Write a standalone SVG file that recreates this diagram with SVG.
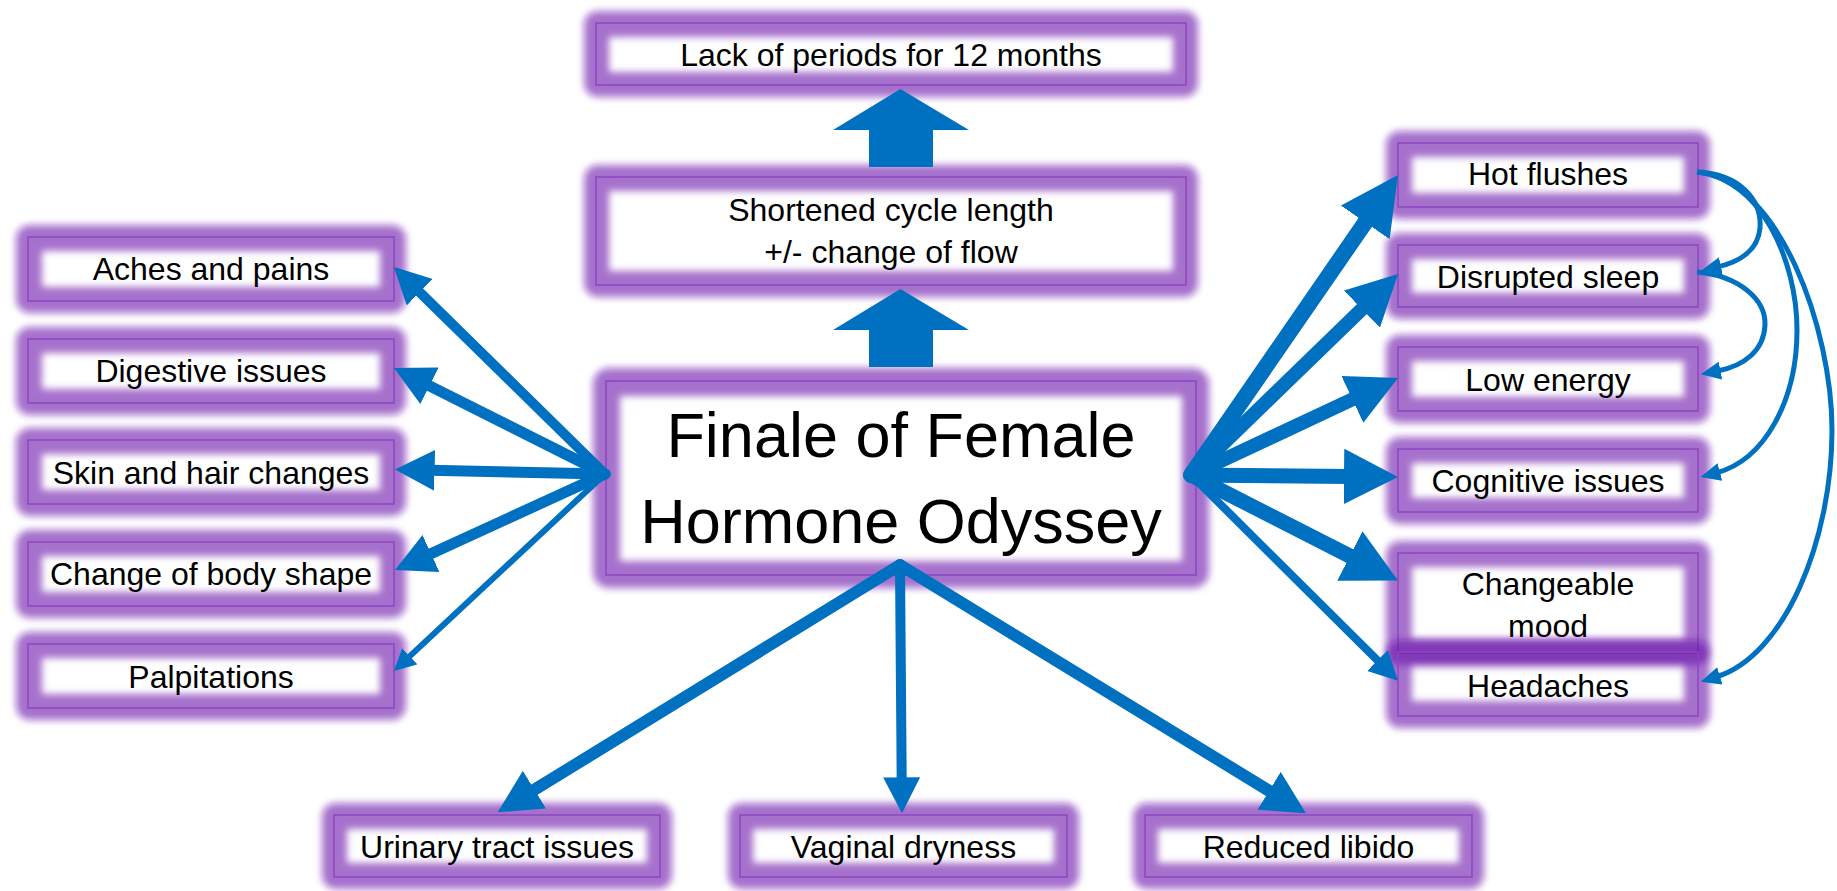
<svg xmlns="http://www.w3.org/2000/svg" width="1837" height="891" viewBox="0 0 1837 891">
<style>
.g{fill:#6a10aa;fill-opacity:0.6;filter:url(#soft)}
.w{fill:#ffffff;filter:url(#soft)}
.b{fill:none;stroke:#8a45c0;stroke-width:1.5}
.t{font-family:"Liberation Sans",Arial,sans-serif;font-size:32px;fill:#000;text-anchor:middle}
.big{font-size:63px}
.c{fill:none;stroke:#0070C0;stroke-linecap:round}
.cv{fill:none;stroke:#0070C0;stroke-width:5;marker-end:url(#sh)}
.blk{fill:#0070C0}
</style>
<defs>
<filter id="soft" x="-20%" y="-50%" width="140%" height="200%"><feGaussianBlur stdDeviation="3.5"/></filter>
<marker id="ah" viewBox="0 0 3.6 3.7" refX="0.4" refY="1.85" markerWidth="3.6" markerHeight="3.7" orient="auto" markerUnits="strokeWidth"><path d="M0,0 L3.6,1.85 L0,3.7 z" fill="#0070C0"/></marker>
<marker id="sh" viewBox="0 0 20 18" refX="4" refY="9" markerWidth="20" markerHeight="18" orient="auto" markerUnits="userSpaceOnUse"><path d="M0,0 L20,9 L0,18 z" fill="#0070C0"/></marker>
</defs>
<rect width="1837" height="891" fill="#ffffff"/>

<g id="node-lack">
<rect class="g" x="584" y="11" width="614" height="86" rx="14"/>
<rect class="w" x="609" y="37" width="564" height="35"/>
<rect class="b" x="596" y="23" width="590" height="62"/>
<text class="t" x="891" y="66">Lack of periods for 12 months</text>
</g>
<g id="node-shortened">
<rect class="g" x="584" y="165" width="614" height="132" rx="14"/>
<rect class="w" x="609" y="191" width="564" height="80"/>
<rect class="b" x="596" y="177" width="590" height="108"/>
<text class="t" x="891" y="221">Shortened cycle length</text>
<text class="t" x="891" y="263">+/- change of flow</text>
</g>
<g id="node-center">
<rect class="g" x="593" y="368" width="616" height="220" rx="16"/>
<rect class="w" x="620" y="396" width="562" height="165"/>
<rect class="b" x="606" y="381" width="590" height="194"/>
<text class="t big" x="901" y="457">Finale of Female</text>
<text class="t big" x="901" y="543">Hormone Odyssey</text>
</g>

<g id="node-aches">
<rect class="g" x="16" y="225" width="390" height="88" rx="14"/>
<rect class="w" x="42" y="251" width="338" height="36"/>
<rect class="b" x="28" y="237" width="366" height="64"/>
<text class="t" x="211" y="280">Aches and pains</text>
</g>
<g id="node-digestive">
<rect class="g" x="16" y="327" width="390" height="88" rx="14"/>
<rect class="w" x="42" y="353" width="338" height="36"/>
<rect class="b" x="28" y="339" width="366" height="64"/>
<text class="t" x="211" y="382">Digestive issues</text>
</g>
<g id="node-skin">
<rect class="g" x="16" y="428" width="390" height="88" rx="14"/>
<rect class="w" x="42" y="454" width="338" height="36"/>
<rect class="b" x="28" y="440" width="366" height="64"/>
<text class="t" x="211" y="483.5">Skin and hair changes</text>
</g>
<g id="node-body">
<rect class="g" x="16" y="530" width="390" height="88" rx="14"/>
<rect class="w" x="42" y="556" width="338" height="36"/>
<rect class="b" x="28" y="542" width="366" height="64"/>
<text class="t" x="211" y="585">Change of body shape</text>
</g>
<g id="node-palp">
<rect class="g" x="16" y="632" width="390" height="88" rx="14"/>
<rect class="w" x="42" y="658" width="338" height="36"/>
<rect class="b" x="28" y="644" width="366" height="64"/>
<text class="t" x="211" y="687.5">Palpitations</text>
</g>

<g id="node-hot">
<rect class="g" x="1386" y="131" width="324" height="88" rx="14"/>
<rect class="w" x="1412" y="157" width="272" height="36"/>
<rect class="b" x="1398" y="143" width="300" height="64"/>
<text class="t" x="1548" y="185">Hot flushes</text>
</g>
<g id="node-sleep">
<rect class="g" x="1386" y="233" width="324" height="86" rx="14"/>
<rect class="w" x="1412" y="259" width="272" height="34"/>
<rect class="b" x="1398" y="245" width="300" height="62"/>
<text class="t" x="1548" y="288">Disrupted sleep</text>
</g>
<g id="node-energy">
<rect class="g" x="1386" y="335" width="324" height="88" rx="14"/>
<rect class="w" x="1412" y="361" width="272" height="36"/>
<rect class="b" x="1398" y="347" width="300" height="64"/>
<text class="t" x="1548" y="391">Low energy</text>
</g>
<g id="node-cognitive">
<rect class="g" x="1386" y="437" width="324" height="87" rx="14"/>
<rect class="w" x="1412" y="463" width="272" height="35"/>
<rect class="b" x="1398" y="449" width="300" height="63"/>
<text class="t" x="1548" y="492">Cognitive issues</text>
</g>
<g id="node-mood">
<rect class="g" x="1386" y="541" width="324" height="124" rx="14"/>
<rect class="w" x="1412" y="567" width="272" height="72"/>
<rect class="b" x="1398" y="553" width="300" height="100"/>
<text class="t" x="1548" y="595">Changeable</text>
<text class="t" x="1548" y="637">mood</text>
</g>
<g id="node-headaches">
<rect class="g" x="1386" y="640" width="324" height="88" rx="14"/>
<rect class="w" x="1412" y="667" width="272" height="34"/>
<rect class="b" x="1398" y="652" width="300" height="64"/>
<text class="t" x="1548" y="697">Headaches</text>
</g>

<g id="node-urinary">
<rect class="g" x="322" y="803" width="350" height="86" rx="14"/>
<rect class="w" x="347" y="829" width="300" height="34"/>
<rect class="b" x="334" y="815" width="326" height="62"/>
<text class="t" x="497" y="858">Urinary tract issues</text>
</g>
<g id="node-vaginal">
<rect class="g" x="728" y="803" width="351" height="86" rx="14"/>
<rect class="w" x="753" y="829" width="301" height="34"/>
<rect class="b" x="740" y="815" width="327" height="62"/>
<text class="t" x="903.5" y="858">Vaginal dryness</text>
</g>
<g id="node-libido">
<rect class="g" x="1133" y="803" width="351" height="86" rx="14"/>
<rect class="w" x="1158" y="829" width="301" height="34"/>
<rect class="b" x="1145" y="815" width="327" height="62"/>
<text class="t" x="1308.5" y="858">Reduced libido</text>
</g>

<g id="connectors">
<path class="blk" d="M900.4,89 L969,130 L933,130 L933,167 L869,167 L869,130 L833,130 Z"/>
<path class="blk" d="M900.4,289 L969,330 L933,330 L933,367 L869,367 L869,330 L833,330 Z"/>

<line class="c" x1="605" y1="474" x2="416.8" y2="289.4" stroke-width="10" marker-end="url(#ah)"/>
<line class="c" x1="605" y1="474" x2="425.5" y2="383.8" stroke-width="11" marker-end="url(#ah)"/>
<line class="c" x1="605" y1="474" x2="430.2" y2="470.3" stroke-width="11" marker-end="url(#ah)"/>
<line class="c" x1="605" y1="474" x2="427" y2="555.4" stroke-width="11" marker-end="url(#ah)"/>
<line class="c" x1="605" y1="474" x2="408" y2="657.9" stroke-width="6" marker-end="url(#ah)"/>

<line class="c" x1="1191" y1="475" x2="1368.9" y2="217.1" stroke-width="16" marker-end="url(#ah)"/>
<line class="c" x1="1191" y1="475" x2="1365.9" y2="305.2" stroke-width="14" marker-end="url(#ah)"/>
<line class="c" x1="1191" y1="475" x2="1357.4" y2="397" stroke-width="14" marker-end="url(#ah)"/>
<line class="c" x1="1191" y1="475" x2="1350" y2="476.5" stroke-width="15" marker-end="url(#ah)"/>
<line class="c" x1="1191" y1="475" x2="1355.2" y2="558.8" stroke-width="15" marker-end="url(#ah)"/>
<line class="c" x1="1191" y1="475" x2="1379.8" y2="662.7" stroke-width="8" marker-end="url(#ah)"/>

<line class="c" x1="900" y1="565" x2="530.4" y2="792.2" stroke-width="12" marker-end="url(#ah)"/>
<line class="c" x1="900" y1="565" x2="901.7" y2="781.3" stroke-width="10" marker-end="url(#ah)"/>
<line class="c" x1="900" y1="565" x2="1273.2" y2="793.3" stroke-width="12" marker-end="url(#ah)"/>

<path class="cv" d="M1697,172 C1740,174 1762,200 1760,228 C1758,250 1740,262 1717,267"/>
<path class="cv" d="M1697,272 C1740,276 1766,300 1765,325 C1764,350 1745,366 1716.5,371.3"/>
<path class="cv" d="M1697,172 C1760,178 1797,260 1797,330 C1797,400 1765,460 1716,473"/>
<path class="cv" d="M1697,172 C1780,180 1832,330 1832,430 C1832,540 1785,656 1716,677"/>
</g>
</svg>
